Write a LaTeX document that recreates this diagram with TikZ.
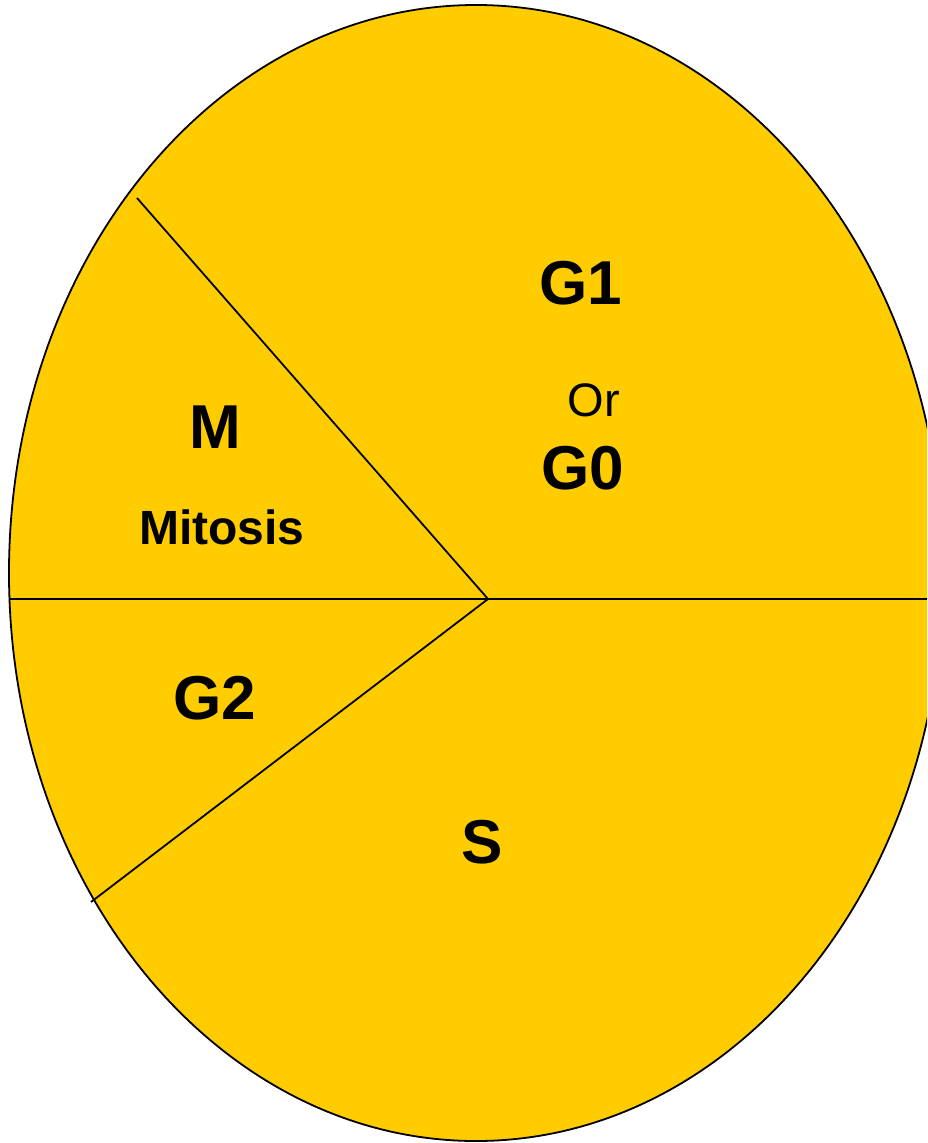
\documentclass[tikz,border=0pt]{standalone}
\usepackage{fontspec}
\setmainfont{Liberation Sans}
\definecolor{cellyellow}{RGB}{255,204,0}
\tikzset{
  big/.style={font=\fontsize{62}{66}\selectfont\bfseries, inner sep=0pt},
  mid/.style={font=\fontsize{47}{50}\selectfont, inner sep=0pt},
  midb/.style={font=\fontsize{48}{51}\selectfont\bfseries, inner sep=0pt},
  edge/.style={draw=black, line width=1.8pt}
}
\begin{document}
\begin{tikzpicture}[x=1pt,y=-1pt]
\useasboundingbox (0,0) rectangle (927,1143);
\clip (0,0) rectangle (927,1143);
\fill[cellyellow] (476,573) ellipse [x radius=467, y radius=568];
\coordinate (c) at (488,599);
\coordinate (top) at (137,198);
\coordinate (low) at (91,902);
\coordinate (hl) at (9,599);
\coordinate (hr) at (930,599);
\draw[edge] (c) -- (top);
\draw[edge] (c) -- (low);
\draw[edge] (hl) -- (hr);
\draw[edge] (476,573) ellipse [x radius=467, y radius=568];
\node[big] (g1) at (581,283) {G1};
\node[mid] (or) at (594,400) {Or};
\node[big] (g0) at (583,468) {G0};
\node[big] (m) at (215,427) {M};
\node[midb] (mit) at (222,527) {Mitosis};
\node[big] (g2) at (215,698) {G2};
\node[big] (s) at (482,842) {S};
\end{tikzpicture}
\end{document}
